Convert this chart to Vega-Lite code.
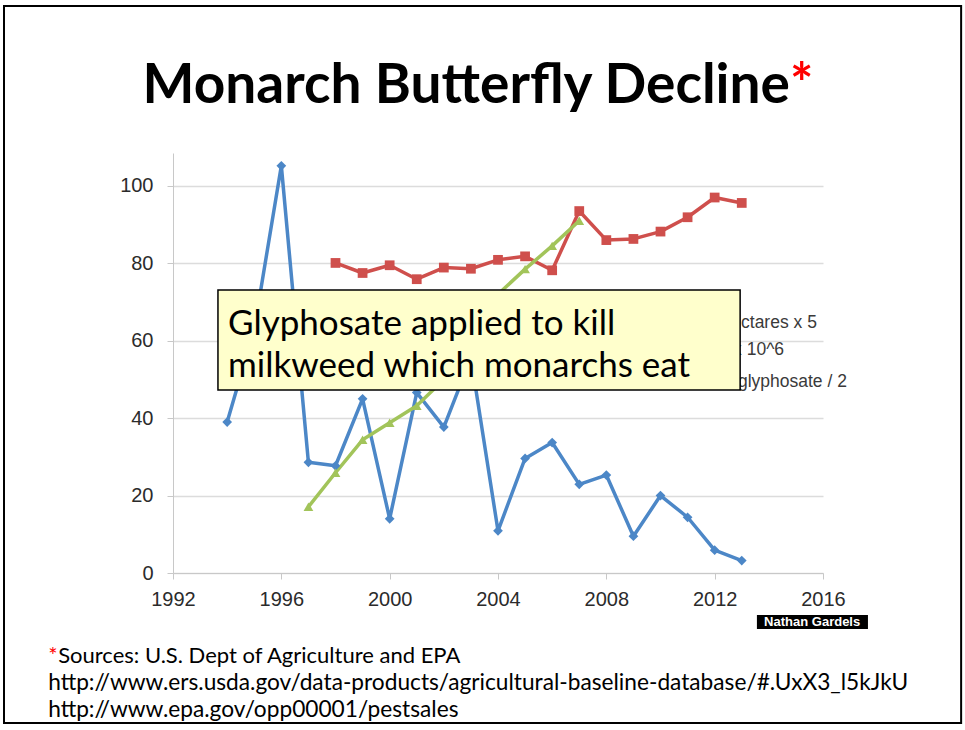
{
  "$schema": "https://vega.github.io/schema/vega-lite/v6.json",
  "autosize": "none",
  "width": 650,
  "height": 420,
  "padding": {"left": 173, "top": 153, "right": 142, "bottom": 157},
  "background": "white",
  "config": {"view": {"stroke": null}},
  "datasets": {
    "series": [
      {"series": "Monarch hectares x 5", "year": 1994, "value": 39.0},
      {"series": "Monarch hectares x 5", "year": 1995, "value": 63.0},
      {"series": "Monarch hectares x 5", "year": 1996, "value": 105.2},
      {"series": "Monarch hectares x 5", "year": 1997, "value": 28.6},
      {"series": "Monarch hectares x 5", "year": 1998, "value": 27.7},
      {"series": "Monarch hectares x 5", "year": 1999, "value": 45.0},
      {"series": "Monarch hectares x 5", "year": 2000, "value": 14.0},
      {"series": "Monarch hectares x 5", "year": 2001, "value": 46.6},
      {"series": "Monarch hectares x 5", "year": 2002, "value": 37.7},
      {"series": "Monarch hectares x 5", "year": 2003, "value": 55.6},
      {"series": "Monarch hectares x 5", "year": 2004, "value": 10.9},
      {"series": "Monarch hectares x 5", "year": 2005, "value": 29.6},
      {"series": "Monarch hectares x 5", "year": 2006, "value": 33.7},
      {"series": "Monarch hectares x 5", "year": 2007, "value": 22.9},
      {"series": "Monarch hectares x 5", "year": 2008, "value": 25.3},
      {"series": "Monarch hectares x 5", "year": 2009, "value": 9.5},
      {"series": "Monarch hectares x 5", "year": 2010, "value": 20.0},
      {"series": "Monarch hectares x 5", "year": 2011, "value": 14.4},
      {"series": "Monarch hectares x 5", "year": 2012, "value": 5.9},
      {"series": "Monarch hectares x 5", "year": 2013, "value": 3.2},
      {"series": "Corn acres x 10^6", "year": 1998, "value": 80.1},
      {"series": "Corn acres x 10^6", "year": 1999, "value": 77.5},
      {"series": "Corn acres x 10^6", "year": 2000, "value": 79.5},
      {"series": "Corn acres x 10^6", "year": 2001, "value": 75.9},
      {"series": "Corn acres x 10^6", "year": 2002, "value": 78.9},
      {"series": "Corn acres x 10^6", "year": 2003, "value": 78.6},
      {"series": "Corn acres x 10^6", "year": 2004, "value": 80.9},
      {"series": "Corn acres x 10^6", "year": 2005, "value": 81.8},
      {"series": "Corn acres x 10^6", "year": 2006, "value": 78.2},
      {"series": "Corn acres x 10^6", "year": 2007, "value": 93.5},
      {"series": "Corn acres x 10^6", "year": 2008, "value": 86.0},
      {"series": "Corn acres x 10^6", "year": 2009, "value": 86.3},
      {"series": "Corn acres x 10^6", "year": 2010, "value": 88.2},
      {"series": "Corn acres x 10^6", "year": 2011, "value": 91.9},
      {"series": "Corn acres x 10^6", "year": 2012, "value": 97.0},
      {"series": "Corn acres x 10^6", "year": 2013, "value": 95.6},
      {"series": "Glyphosate / 2", "year": 1997, "value": 17.1},
      {"series": "Glyphosate / 2", "year": 1998, "value": 25.9},
      {"series": "Glyphosate / 2", "year": 1999, "value": 34.4},
      {"series": "Glyphosate / 2", "year": 2000, "value": 38.8},
      {"series": "Glyphosate / 2", "year": 2001, "value": 43.2},
      {"series": "Glyphosate / 2", "year": 2002, "value": 50.0},
      {"series": "Glyphosate / 2", "year": 2003, "value": 60.0},
      {"series": "Glyphosate / 2", "year": 2004, "value": 72.0},
      {"series": "Glyphosate / 2", "year": 2005, "value": 78.5},
      {"series": "Glyphosate / 2", "year": 2006, "value": 84.5},
      {"series": "Glyphosate / 2", "year": 2007, "value": 91.0}
    ],
    "one": [{}]
  },
  "layer": [
    {
      "data": {"name": "series"},
      "mark": {"type": "line", "strokeWidth": 3.5, "strokeJoin": "round"},
      "encoding": {
        "x": {"field": "year", "type": "quantitative", "scale": {"domain": [1992, 2016], "nice": false, "zero": false},
          "axis": {"values": [1992, 1996, 2000, 2004, 2008, 2012, 2016], "format": "d", "grid": false, "title": null,
            "domainColor": "#c8c8c8", "tickColor": "#c8c8c8", "tickSize": 6, "labelFont": "Liberation Sans", "labelFontSize": 20,
            "labelColor": "#2b2b2b", "labelPadding": 10, "labelFlush": false}},
        "y": {"field": "value", "type": "quantitative", "scale": {"domain": [0, 108.5], "nice": false},
          "axis": {"values": [0, 20, 40, 60, 80, 100], "grid": true, "gridColor": "#dcdcdc", "gridWidth": 1.5, "title": null,
            "domainColor": "#c8c8c8", "tickColor": "#c8c8c8", "tickSize": 6, "labelFont": "Liberation Sans", "labelFontSize": 20,
            "labelColor": "#2b2b2b", "labelPadding": 14}},
        "color": {"field": "series", "type": "nominal", "legend": null,
          "scale": {"domain": ["Monarch hectares x 5", "Corn acres x 10^6", "Glyphosate / 2"], "range": ["#4c87c7", "#cf4f4c", "#a2c45a"]}},
        "order": {"field": "year"}
      }
    },
    {
      "data": {"name": "series"},
      "mark": {"type": "point", "filled": true, "size": 95, "opacity": 1},
      "encoding": {
        "x": {"field": "year", "type": "quantitative"},
        "y": {"field": "value", "type": "quantitative"},
        "color": {"field": "series", "type": "nominal", "legend": null,
          "scale": {"domain": ["Monarch hectares x 5", "Corn acres x 10^6", "Glyphosate / 2"], "range": ["#5a93cf", "#dc5f5c", "#a8c861"]}},
        "shape": {"field": "series", "type": "nominal", "legend": null,
          "scale": {"domain": ["Monarch hectares x 5", "Corn acres x 10^6", "Glyphosate / 2"], "range": ["diamond", "square", "triangle-up"]}}
      }
    },
    {
      "data": {"name": "one"},
      "mark": {"type": "text", "text": "ctares x 5", "font": "Liberation Sans", "fontSize": 17.5, "color": "#3a3a3a", "align": "left", "baseline": "middle"},
      "encoding": {"x": {"datum": 2012.973, "type": "quantitative"}, "y": {"datum": 64.6, "type": "quantitative"}}
    },
    {
      "data": {"name": "one"},
      "mark": {"type": "text", "text": "x 10^6", "font": "Liberation Sans", "fontSize": 17.5, "color": "#3a3a3a", "align": "left", "baseline": "middle"},
      "encoding": {"x": {"datum": 2012.68, "type": "quantitative"}, "y": {"datum": 57.6, "type": "quantitative"}}
    },
    {
      "data": {"name": "one"},
      "mark": {"type": "text", "text": "glyphosate / 2", "font": "Liberation Sans", "fontSize": 17.5, "color": "#3a3a3a", "align": "left", "baseline": "middle"},
      "encoding": {"x": {"datum": 2012.86, "type": "quantitative"}, "y": {"datum": 49.4, "type": "quantitative"}}
    },
    {
      "data": {"name": "one"},
      "mark": {"type": "rect", "fill": "#ffffcc", "stroke": "#000000", "strokeWidth": 1.5},
      "encoding": {"x": {"datum": 1993.66, "type": "quantitative"}, "x2": {"datum": 2012.94},
        "y": {"datum": 73.1, "type": "quantitative"}, "y2": {"datum": 47.3}}
    },
    {
      "data": {"name": "one"},
      "mark": {"type": "text", "text": "Glyphosate applied to kill", "font": "Lato", "fontSize": 35, "color": "#000000", "align": "left", "baseline": "alphabetic"},
      "encoding": {"x": {"datum": 1994.03, "type": "quantitative"}, "y": {"datum": 61.5, "type": "quantitative"}}
    },
    {
      "data": {"name": "one"},
      "mark": {"type": "text", "text": "milkweed which monarchs eat", "font": "Lato", "fontSize": 35, "color": "#000000", "align": "left", "baseline": "alphabetic"},
      "encoding": {"x": {"datum": 1994.03, "type": "quantitative"}, "y": {"datum": 50.6, "type": "quantitative"}}
    },
    {
      "data": {"name": "one"},
      "mark": {"type": "text", "text": "Monarch Butterfly Decline", "font": "Lato", "fontWeight": "bold", "fontSize": 55, "color": "#000000", "align": "right", "baseline": "alphabetic"},
      "encoding": {"x": {"datum": 2014.78, "type": "quantitative"}, "y": {"datum": 121.4, "type": "quantitative"}}
    },
    {
      "data": {"name": "one"},
      "mark": {"type": "text", "text": "*", "font": "Lato", "fontWeight": "bold", "fontSize": 55, "color": "#ff0000", "align": "left", "baseline": "alphabetic"},
      "encoding": {"x": {"datum": 2014.78, "type": "quantitative"}, "y": {"datum": 121.4, "type": "quantitative"}}
    },
    {
      "data": {"name": "one"},
      "mark": {"type": "text", "text": "*", "font": "Lato", "fontSize": 22, "color": "#ff0000", "align": "left", "baseline": "alphabetic"},
      "encoding": {"x": {"datum": 1987.39, "type": "quantitative"}, "y": {"datum": -23.3, "type": "quantitative"}}
    },
    {
      "data": {"name": "one"},
      "mark": {"type": "text", "text": "Sources: U.S. Dept of Agriculture and EPA", "font": "Lato", "fontSize": 22, "color": "#000000", "align": "left", "baseline": "alphabetic"},
      "encoding": {"x": {"datum": 1987.76, "type": "quantitative"}, "y": {"datum": -23.3, "type": "quantitative"}}
    },
    {
      "data": {"name": "one"},
      "mark": {"type": "text", "text": "http://www.ers.usda.gov/data-products/agricultural-baseline-database/#.UxX3_l5kJkU", "font": "Lato", "fontSize": 22.7, "color": "#000000", "align": "left", "baseline": "alphabetic"},
      "encoding": {"x": {"datum": 1987.39, "type": "quantitative"}, "y": {"datum": -30.2, "type": "quantitative"}}
    },
    {
      "data": {"name": "one"},
      "mark": {"type": "text", "text": "http://www.epa.gov/opp00001/pestsales", "font": "Lato", "fontSize": 22.7, "color": "#000000", "align": "left", "baseline": "alphabetic"},
      "encoding": {"x": {"datum": 1987.39, "type": "quantitative"}, "y": {"datum": -37.2, "type": "quantitative"}}
    },
    {
      "data": {"name": "one"},
      "mark": {"type": "rect", "fill": "#000000"},
      "encoding": {"x": {"datum": 2013.56, "type": "quantitative"}, "x2": {"datum": 2017.66},
        "y": {"datum": -10.85, "type": "quantitative"}, "y2": {"datum": -14.47}}
    },
    {
      "data": {"name": "one"},
      "mark": {"type": "text", "text": "Nathan Gardels", "font": "Liberation Sans", "fontWeight": "bold", "fontSize": 13, "color": "#ffffff", "align": "center", "baseline": "middle"},
      "encoding": {"x": {"datum": 2015.6, "type": "quantitative"}, "y": {"datum": -12.66, "type": "quantitative"}}
    },
    {
      "data": {"name": "one"},
      "mark": {"type": "rect", "filled": false, "stroke": "#000000", "strokeWidth": 2},
      "encoding": {"x": {"datum": 1985.76, "type": "quantitative"}, "x2": {"datum": 2021.1},
        "y": {"datum": 146.5, "type": "quantitative"}, "y2": {"datum": -38.76}}
    }
  ]
}
